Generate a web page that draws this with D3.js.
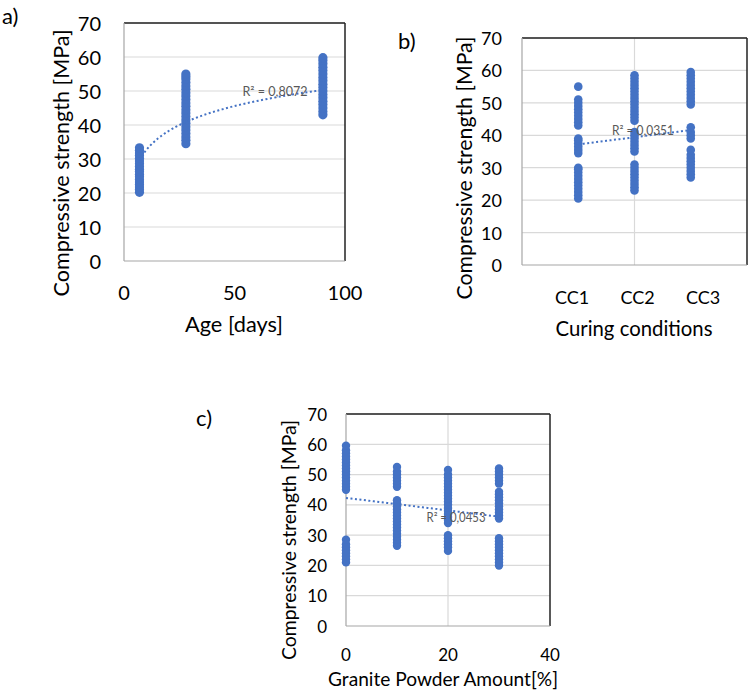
<!DOCTYPE html>
<html>
<head>
<meta charset="utf-8">
<script src="https://cdn.jsdelivr.net/npm/d3@7"></script>
<style>
  body { margin: 0; background: #fff; }
  svg { display: block; font-family: Lato, "Open Sans", sans-serif; }
</style>
</head>
<body>
<svg width="749" height="697"></svg>
<script>
// ---- data ----
const ages = [7, 28, 90];
const strengthAge7 = [20.2, 21, 21.8, 22.5, 23.2, 24, 24.8, 25.5, 26.3, 27, 27.8, 28.6, 29.4, 30.2, 31, 31.8, 32.6, 33.3];
const strengthAge28 = [34.5, 35.5, 36.5, 37.5, 38.5, 39.5, 40.5, 41.5, 42.5, 43.5, 44.5, 45.5, 46.5, 47.5, 48.5, 49.5, 50.5, 51.5, 52.5, 53.5, 54.3, 55];
const strengthAge90 = [43, 44, 45, 46, 47, 48, 49, 50, 51, 52, 53, 54, 55, 56, 57, 58, 59, 59.8];
const trendAge = [8.07, 14.0]; // log trend: a*ln(x)+b
const r2Age = "R² = 0,8072";

const curing = ["CC1", "CC2", "CC3"];
const strengthCC1 = [20.5, 21.5, 22.5, 23.5, 24.5, 25.5, 26.5, 27.5, 28.5, 29.5, 30, 34.5, 35.5, 36.5, 37.5, 38.5, 39, 43, 44, 45, 46, 47, 48, 49, 50, 51, 55];
const strengthCC2 = [23, 24, 25, 26, 27, 28, 29, 30, 31, 35, 36, 37, 38, 39, 40, 41, 44.5, 45.5, 46.5, 47.5, 48.5, 49.5, 50.5, 51.5, 52.5, 53.5, 54.5, 55.5, 56.5, 57.5, 58.5];
const strengthCC3 = [27, 28, 29, 30, 31, 32, 33, 34, 35.5, 39, 40, 41, 42.5, 49.5, 50.5, 51.5, 52.5, 53.5, 54.5, 55.5, 56.5, 57.5, 58.5, 59.5];
const trendCuring = [2.2, 35.0]; // linear: a*x+b
const r2Curing = "R² = 0,0351";

const granite = [0, 10, 20, 30];
const strengthGP0 = [21, 22, 23, 24, 25, 26, 27, 28.5, 45, 46, 47, 48, 49, 50, 51, 52, 53, 54, 55, 56, 57, 58, 59.5];
const strengthGP10 = [26.5, 27.5, 28.5, 29.5, 30.5, 31.5, 32.5, 33.5, 34.5, 35.5, 36.5, 37.5, 38.5, 39.5, 40.5, 41.5, 46, 47, 48, 49, 50, 51, 52.5];
const strengthGP20 = [24.8, 26, 27, 28, 29, 30, 34, 35, 36, 37, 38, 39, 40, 41, 42, 43, 44, 45, 46, 47, 48, 49, 50, 51.5];
const strengthGP30 = [20, 21, 22, 23, 24, 25, 26, 27, 28, 29, 35.5, 36.5, 37.5, 38.5, 39.5, 40.5, 41.5, 42.5, 43.5, 44.3, 47, 48, 49, 50, 51, 52];
const trendGranite = [-0.207, 42.3];
const r2Granite = "R² = 0,0453";

const yTicks = [0, 10, 20, 30, 40, 50, 60, 70];

let svg = d3.select("svg");
const blue = "#4472C4";

function flatten(xs, groups) {
  let pts = [];
  xs.forEach((x, i) => groups[i].forEach((v) => pts.push({ x: x, y: v })));
  return pts;
}

function drawPanel(c) {
  let x = d3.scaleLinear().domain(c.xDomain).range([c.left, c.right]);
  let y = d3.scaleLinear().domain([0, 70]).range([c.bottom, c.top]);
  let g = svg.append("g");

  // gridlines
  g.selectAll(".hg").data(yTicks.slice(1)).enter().append("line")
    .attr("x1", c.left).attr("x2", c.right)
    .attr("y1", (d) => y(d)).attr("y2", (d) => y(d))
    .attr("stroke", "#d9d9d9").attr("stroke-width", 1.2);
  g.selectAll(".vg").data(c.vGrid).enter().append("line")
    .attr("x1", (d) => x(d)).attr("x2", (d) => x(d))
    .attr("y1", c.top).attr("y2", c.bottom)
    .attr("stroke", "#d9d9d9").attr("stroke-width", 1.2);

  // frame
  g.append("line").attr("x1", c.left).attr("x2", c.right).attr("y1", c.top).attr("y2", c.top)
    .attr("stroke", "#222").attr("stroke-width", 1.5);
  g.append("line").attr("x1", c.right).attr("x2", c.right).attr("y1", c.top).attr("y2", c.bottom)
    .attr("stroke", "#222").attr("stroke-width", 1.5);
  g.append("line").attr("x1", c.left).attr("x2", c.left).attr("y1", c.top).attr("y2", c.bottom)
    .attr("stroke", "#a6a6a6").attr("stroke-width", 1.2);
  g.append("line").attr("x1", c.left).attr("x2", c.right).attr("y1", c.bottom).attr("y2", c.bottom)
    .attr("stroke", "#a6a6a6").attr("stroke-width", 1.2);

  // points
  g.selectAll("circle").data(flatten(c.xs, c.groups)).enter().append("circle")
    .attr("cx", (d) => x(d.x)).attr("cy", (d) => y(d.y))
    .attr("r", c.r).attr("fill", blue);

  // trend
  let tx = d3.range(c.trendRange[0], c.trendRange[1] + 0.001, (c.trendRange[1] - c.trendRange[0]) / 60);
  g.append("path")
    .attr("d", d3.line().x((d) => x(d)).y((d) => y(c.trendFn(d)))(tx))
    .attr("fill", "none").attr("stroke", blue).attr("stroke-width", 2)
    .attr("stroke-dasharray", "2,2.5");

  // R² label
  g.append("text").attr("x", c.r2Pos[0]).attr("y", c.r2Pos[1])
    .attr("text-anchor", "middle").attr("dominant-baseline", "central")
    .attr("font-size", 13).attr("fill", "#595959")
    .attr("textLength", c.r2Len).attr("lengthAdjust", "spacingAndGlyphs").text(c.r2);

  // y tick labels
  g.selectAll(".yt").data(yTicks).enter().append("text")
    .attr("x", c.yTickX).attr("y", (d) => y(d))
    .attr("text-anchor", "end").attr("dominant-baseline", "central")
    .attr("font-size", c.tickFont).text((d) => d);

  // x tick labels
  g.selectAll(".xt").data(c.xTicks).enter().append("text")
    .attr("x", (d) => (c.xTickScale ? c.xTickScale(d) : x(d))).attr("y", c.xTickY)
    .attr("text-anchor", "middle").attr("dominant-baseline", "central")
    .attr("font-size", c.tickFont).text((d) => d);

  // axis titles
  g.append("text")
    .attr("transform", `translate(${c.yTitle[0]},${c.yTitle[1]}) rotate(-90)`)
    .attr("text-anchor", "middle").attr("dominant-baseline", "central")
    .attr("font-size", c.titleFont)
    .attr("textLength", c.yTitleLen).attr("lengthAdjust", "spacingAndGlyphs")
    .text("Compressive strength [MPa]");
  g.append("text").attr("x", c.xTitle[0]).attr("y", c.xTitle[1])
    .attr("text-anchor", "middle").attr("dominant-baseline", "central")
    .attr("font-size", c.titleFont)
    .attr("textLength", c.xTitleLen).attr("lengthAdjust", "spacingAndGlyphs")
    .text(c.xLabel);

  // panel letter
  g.append("text").attr("x", c.letterPos[0]).attr("y", c.letterPos[1])
    .attr("dominant-baseline", "central").attr("font-size", 22).text(c.letter);
}

drawPanel({
  left: 124, right: 345, top: 23, bottom: 261,
  xDomain: [0, 100], xTicks: [0, 50, 100], vGrid: [],
  xs: ages, groups: [strengthAge7, strengthAge28, strengthAge90], r: 4.6,
  trendRange: [7, 90], trendFn: (v) => trendAge[0] * Math.log(v) + trendAge[1],
  r2: r2Age, r2Pos: [275, 91], r2Len: 65,
  yTickX: 101, xTickY: 292, tickFont: 20,
  yTitle: [60, 163], yTitleLen: 267, xTitle: [234, 323], xTitleLen: 98,
  titleFont: 22, xLabel: "Age [days]",
  letter: "a)", letterPos: [2, 15]
});

drawPanel({
  left: 522, right: 747, top: 38, bottom: 265,
  xDomain: [0, 4], xTicks: curing, vGrid: [2],
  xTickScale: d3.scalePoint().domain(curing).range([572, 703]),
  xs: [1, 2, 3], groups: [strengthCC1, strengthCC2, strengthCC3], r: 4.3,
  trendRange: [1, 3], trendFn: (v) => trendCuring[0] * v + trendCuring[1],
  r2: r2Curing, r2Pos: [643, 130], r2Len: 62,
  yTickX: 502, xTickY: 297, tickFont: 18,
  yTitle: [463, 168], yTitleLen: 263, xTitle: [634, 327], xTitleLen: 157,
  titleFont: 21, xLabel: "Curing conditions",
  letter: "b)", letterPos: [398, 40]
});

drawPanel({
  left: 346, right: 550, top: 414, bottom: 626,
  xDomain: [0, 40], xTicks: [0, 20, 40], vGrid: [20],
  xs: granite, groups: [strengthGP0, strengthGP10, strengthGP20, strengthGP30], r: 4.2,
  trendRange: [0, 30], trendFn: (v) => trendGranite[0] * v + trendGranite[1],
  r2: r2Granite, r2Pos: [456, 517], r2Len: 59,
  yTickX: 327, xTickY: 654, tickFont: 17,
  yTitle: [288, 540], yTitleLen: 240, xTitle: [443, 678], xTitleLen: 230,
  titleFont: 20, xLabel: "Granite Powder Amount[%]",
  letter: "c)", letterPos: [196, 417]
});
</script>
</body>
</html>
